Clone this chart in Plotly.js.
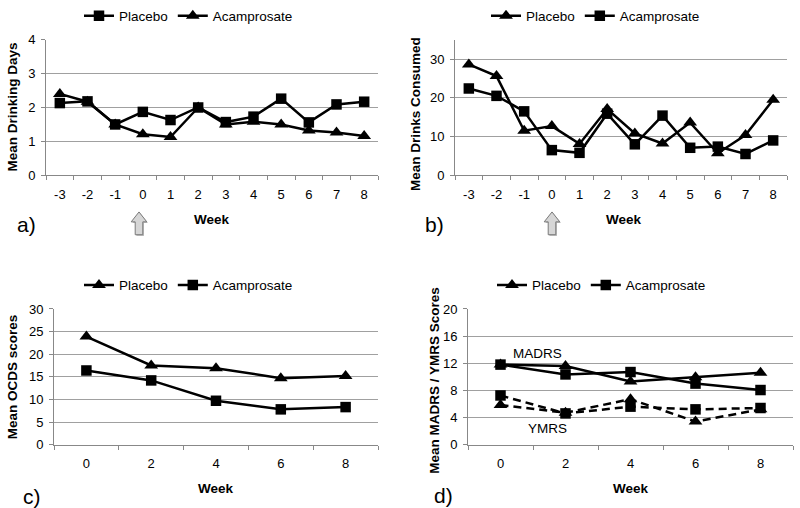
<!DOCTYPE html>
<html>
<head>
<meta charset="utf-8">
<script src="https://cdn.plot.ly/plotly-3.0.1.min.js"></script>
<style>html,body{margin:0;padding:0;background:#fff}#chart{width:800px;height:508px}</style>
</head>
<body>
<div id="chart"></div>
<script>
// ---- data ----
const weeksAB = ["-3","-2","-1","0","1","2","3","4","5","6","7","8"];
const weeksCD = ["0","2","4","6","8"];

// a) Mean Drinking Days
const aPlacebo     = [2.13, 2.18, 1.50, 1.87, 1.63, 2.00, 1.57, 1.73, 2.26, 1.56, 2.09, 2.17];
const aAcamprosate = [2.40, 2.17, 1.50, 1.21, 1.13, 2.00, 1.50, 1.58, 1.50, 1.32, 1.26, 1.16];

// b) Mean Drinks Consumed
const bPlacebo     = [28.6, 25.6, 11.5, 12.7, 8.1, 17.1, 10.8, 8.2, 13.6, 5.7, 10.4, 19.5];
const bAcamprosate = [22.4, 20.5, 16.5, 6.5, 5.8, 15.9, 8.0, 15.4, 7.1, 7.4, 5.5, 9.0];

// c) Mean OCDS scores
const cPlacebo     = [23.9, 17.5, 16.9, 14.7, 15.2];
const cAcamprosate = [16.4, 14.2, 9.7, 7.8, 8.3];

// d) Mean MADRS / YMRS scores
const dPlaceboMADRS     = [11.8, 11.6, 9.3, 9.95, 10.6];
const dAcamprosateMADRS = [11.8, 10.35, 10.7, 9.0, 8.05];
const dPlaceboYMRS      = [5.85, 4.7, 6.7, 3.4, 5.2];
const dAcamprosateYMRS  = [7.25, 4.6, 5.6, 5.2, 5.4];

const seriesNames = ["Placebo", "Acamprosate"];

// ---- styling helpers ----
const W = 800, H = 508;
const FONT = "Liberation Sans, Arial, sans-serif";
const px = x => x / W;
const py = y => 1 - y / H;

function tr(x, y, name, sym, xa, ya, leg, dash, show) {
  return {
    x: x, y: y, name: name, type: "scatter", mode: "lines+markers",
    xaxis: xa, yaxis: ya, legend: leg, showlegend: show !== false,
    line: {color: "#000", width: 2.5, dash: dash || "solid"},
    marker: {symbol: sym, size: sym === "square" ? 10.5 : 12, color: "#000"},
    cliponaxis: false, hoverinfo: "skip"
  };
}

const data = [
  tr(weeksAB, aPlacebo, seriesNames[0], "square", "x", "y", "legend"),
  tr(weeksAB, aAcamprosate, seriesNames[1], "triangle-up", "x", "y", "legend"),
  tr(weeksAB, bPlacebo, seriesNames[0], "triangle-up", "x2", "y2", "legend2"),
  tr(weeksAB, bAcamprosate, seriesNames[1], "square", "x2", "y2", "legend2"),
  tr(weeksCD, cPlacebo, seriesNames[0], "triangle-up", "x3", "y3", "legend3"),
  tr(weeksCD, cAcamprosate, seriesNames[1], "square", "x3", "y3", "legend3"),
  tr(weeksCD, dPlaceboMADRS, seriesNames[0], "triangle-up", "x4", "y4", "legend4"),
  tr(weeksCD, dAcamprosateMADRS, seriesNames[1], "square", "x4", "y4", "legend4"),
  tr(weeksCD, dPlaceboYMRS, seriesNames[0], "triangle-up", "x4", "y4", "legend4", "8px,5px", false),
  tr(weeksCD, dAcamprosateYMRS, seriesNames[1], "square", "x4", "y4", "legend4", "8px,5px", false)
];

function xAxis(x0, x1, y0, y1, anchor, cats) {
  return {
    domain: [px(x0), px(x1)], anchor: anchor, type: "category",
    categoryorder: "array", categoryarray: cats,
    range: [-0.5, cats.length - 0.5],
    tickson: "boundaries", ticks: "outside", ticklen: 4, tickcolor: "#888",
    showline: true, linecolor: "#888", linewidth: 1, showgrid: false, zeroline: false,
    tickfont: {family: FONT, size: 13, color: "#000"}, ticklabelstandoff: 7,
    fixedrange: true
  };
}
function yAxis(y0, y1, anchor, range, dtick) {
  return {
    domain: [py(y1), py(y0)], anchor: anchor, range: range, dtick: dtick, tick0: 0,
    ticks: "outside", ticklen: 4, tickcolor: "#888",
    showline: true, linecolor: "#888", linewidth: 1,
    showgrid: true, gridcolor: "#a0a0a0", gridwidth: 1, zeroline: false,
    tickfont: {family: FONT, size: 13, color: "#000"}, ticklabelstandoff: 3,
    fixedrange: true
  };
}

function ann(text, x, y, opts) {
  return Object.assign({
    text: text, x: px(x), y: py(y), xref: "paper", yref: "paper",
    xanchor: "center", yanchor: "middle", showarrow: false,
    font: {family: FONT, size: 13.5, color: "#000"}
  }, opts || {});
}
const boldFont = {family: FONT, size: 13.5, color: "#000", weight: "bold"};
const letterFont = {family: FONT, size: 21, color: "#000"};

function arrowPath(cx, top, headBase, bottom, dx) {
  const pts = [
    [cx, top], [cx + 7.8, headBase], [cx + 3.8, headBase], [cx + 3.8, bottom],
    [cx - 3.8, bottom], [cx - 3.8, headBase], [cx - 7.8, headBase]
  ];
  return "M " + pts.map(p => px(p[0] + (dx||0)) + "," + py(p[1] + (dx||0))).join(" L ") + " Z";
}
function arrowShapes(cx) {
  return [
    {type: "path", xref: "paper", yref: "paper", path: arrowPath(cx, 209, 219, 232, 1.2),
     fillcolor: "rgba(0,0,0,0.25)", line: {width: 0}},
    {type: "path", xref: "paper", yref: "paper", path: arrowPath(cx, 209, 219, 232),
     fillcolor: "#d6d6d6", line: {color: "#7a7a7a", width: 1}}
  ];
}

function legend(x, y) {
  return {
    orientation: "h", x: px(x), xanchor: "left", y: py(y), yanchor: "middle",
    font: {family: FONT, size: 13.5, color: "#000"}, bgcolor: "rgba(0,0,0,0)",
    borderwidth: 0, itemclick: false, itemdoubleclick: false, tracegroupgap: 0,
    itemwidth: 30
  };
}

const layout = {
  width: W, height: H, margin: {l: 0, r: 0, t: 0, b: 0},
  paper_bgcolor: "#fff", plot_bgcolor: "#fff", showlegend: true,
  font: {family: FONT, color: "#000"},
  xaxis:  xAxis(46, 378, 35, 172, "y", weeksAB),
  yaxis:  yAxis(35, 172, "x", [0, 4], 1),
  xaxis2: xAxis(455, 787, 35, 172, "y2", weeksAB),
  yaxis2: yAxis(35, 172, "x2", [0, 35], 10),
  xaxis3: xAxis(54, 378, 307, 444, "y3", weeksCD),
  yaxis3: yAxis(307, 444, "x3", [0, 30], 5),
  xaxis4: xAxis(468, 793, 307, 444, "y4", weeksCD),
  yaxis4: yAxis(307, 444, "x4", [0, 20], 4),
  legend:  legend(79, 11),
  legend2: legend(486, 11),
  legend3: legend(79, 283),
  legend4: legend(492, 283),
  annotations: [
    ann("Mean Drinking Days", 12, 103.5, {textangle: -90, font: boldFont}),
    ann("Mean Drinks Consumed", 416, 110, {textangle: -90, font: boldFont}),
    ann("Mean OCDS scores", 12, 376, {textangle: -90, font: boldFont}),
    ann("Mean MADRS / YMRS Scores", 435, 378.5, {textangle: -90, font: boldFont}),
    ann("Week", 212, 217, {font: boldFont}),
    ann("Week", 624, 217, {font: boldFont}),
    ann("Week", 216, 488, {font: boldFont}),
    ann("Week", 631, 488, {font: boldFont}),
    ann("a)", 26, 222, {font: letterFont}),
    ann("b)", 435, 222, {font: letterFont}),
    ann("c)", 32, 496, {font: letterFont}),
    ann("d)", 443, 495, {font: letterFont}),
    ann("MADRS", 537, 352),
    ann("YMRS", 547, 428)
  ],
  shapes: [].concat(arrowShapes(139), arrowShapes(552))
};

Plotly.newPlot("chart", data, layout, {staticPlot: true, displayModeBar: false});
</script>
</body>
</html>
